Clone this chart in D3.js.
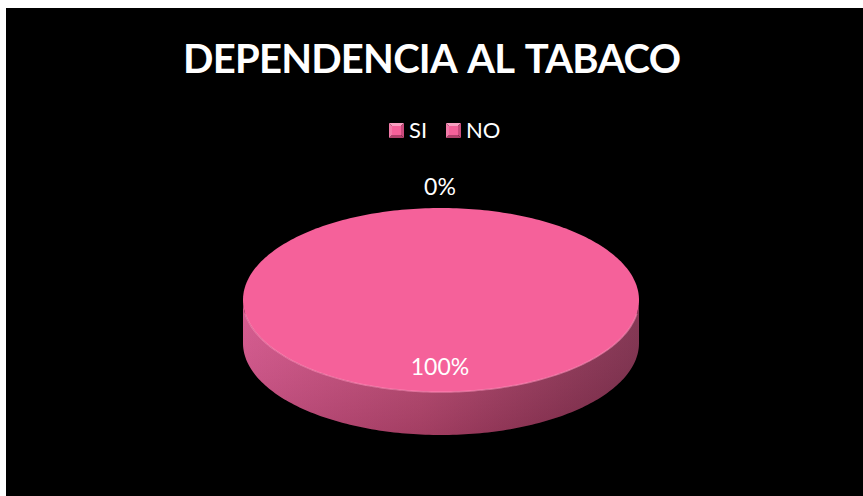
<!DOCTYPE html>
<html>
<head>
<meta charset="utf-8">
<script src="https://cdn.jsdelivr.net/npm/d3@7"></script>
<style>
    body { margin: 0; background: #fff; }
    svg { display: block; }
    text { font-family: Lato, "Open Sans", sans-serif; fill: #fff; }
</style>
</head>
<body>
<svg id="gfx"></svg>
<script>
// chart data
const title = "DEPENDENCIA AL TABACO";
const categories = ["SI", "NO"];
const values = [0, 100];
const colors = ["#f5619a", "#f5619a"];

const gfx = {
    width: 863,
    height: 496,
    cx: 441,
    cy: 300,
    rx: 198,
    ry: 92,
    depth: 43
};

const svg = d3.select("#gfx")
    .attr("width", gfx.width)
    .attr("height", gfx.height);

// black chart area
svg.append("rect")
    .attr("x", 6).attr("y", 8)
    .attr("width", gfx.width - 6).attr("height", gfx.height - 8)
    .attr("fill", "#000");

const defs = svg.append("defs");

const sideGrad = defs.append("linearGradient")
    .attr("id", "side").attr("x1", "0").attr("x2", "1").attr("y1", "0").attr("y2", "0");
sideGrad.append("stop").attr("offset", "0").attr("stop-color", "#d4538a");
sideGrad.append("stop").attr("offset", "0.45").attr("stop-color", "#b8466f");
sideGrad.append("stop").attr("offset", "0.8").attr("stop-color", "#923557");
sideGrad.append("stop").attr("offset", "1").attr("stop-color", "#7e2c4b");

const sideShade = defs.append("linearGradient")
    .attr("id", "sideShade").attr("x1", "0").attr("x2", "0").attr("y1", "0").attr("y2", "1");
sideShade.append("stop").attr("offset", "0").attr("stop-color", "#fff").attr("stop-opacity", 0.06);
sideShade.append("stop").attr("offset", "1").attr("stop-color", "#000").attr("stop-opacity", 0.12);

// title
const titleText = svg.append("text")
    .attr("x", 432).attr("y", 73)
    .attr("text-anchor", "middle")
    .attr("font-size", 40)
    .attr("font-weight", "bold")
    .attr("word-spacing", 4)
    .text(title);
// fit to the reference width
const tw = titleText.node().getComputedTextLength();
if (Math.abs(tw - 498) > 4) titleText.attr("textLength", 498).attr("lengthAdjust", "spacing");

// legend
const legendX = [389, 446];
const legend = svg.append("g").selectAll("g")
    .data(categories)
    .join("g")
    .attr("transform", (d, i) => "translate(" + legendX[i] + ",123)");

const sq = 15;
const bevel = [
    { pts: [[0, 0], [sq, 0], [sq / 2, sq / 2]], c: "#f9a0c1" },
    { pts: [[sq, 0], [sq, sq], [sq / 2, sq / 2]], c: "#c94a7c" },
    { pts: [[sq, sq], [0, sq], [sq / 2, sq / 2]], c: "#b0406b" },
    { pts: [[0, sq], [0, 0], [sq / 2, sq / 2]], c: "#f27aa8" }
];
legend.selectAll("path")
    .data(bevel)
    .join("path")
    .attr("d", d => "M" + d.pts.map(p => p.join(",")).join("L") + "Z")
    .attr("fill", d => d.c);
legend.append("rect")
    .attr("x", 3).attr("y", 3).attr("width", sq - 6).attr("height", sq - 6)
    .attr("fill", (d, i) => colors[i]);
legend.append("text")
    .attr("x", sq + 5).attr("y", sq)
    .attr("font-size", 22)
    .text(d => d);

// 3d pie
const pie = d3.pie().sort(null).value(d => d);
const arcs = pie(values);
const total = d3.sum(values);

const px = a => gfx.cx + gfx.rx * Math.sin(a);
const py = (a, dz) => gfx.cy - gfx.ry * Math.cos(a) + (dz || 0);

function angles(a0, a1) {
    const n = Math.max(2, Math.ceil((a1 - a0) / 0.02));
    return d3.range(n + 1).map(i => a0 + (a1 - a0) * i / n);
}

const pieG = svg.append("g");

// side walls (front half only)
arcs.forEach((d, i) => {
    const a0 = Math.max(d.startAngle, Math.PI / 2);
    const a1 = Math.min(d.endAngle, Math.PI * 3 / 2);
    if (a1 <= a0) return;
    const as = angles(a0, a1);
    const top = as.map(a => [px(a), py(a)]);
    const bot = as.slice().reverse().map(a => [px(a), py(a, gfx.depth)]);
    const path = "M" + top.concat(bot).map(p => p.join(",")).join("L") + "Z";
    pieG.append("path").attr("d", path).attr("fill", "url(#side)");
    pieG.append("path").attr("d", path).attr("fill", "url(#sideShade)");
});

// top faces
arcs.forEach((d, i) => {
    if (d.endAngle - d.startAngle <= 0) return;
    const as = angles(d.startAngle, d.endAngle);
    const pts = as.map(a => [px(a), py(a)]);
    const full = d.endAngle - d.startAngle >= Math.PI * 2 - 1e-6;
    const path = full
        ? "M" + pts.map(p => p.join(",")).join("L") + "Z"
        : "M" + gfx.cx + "," + gfx.cy + "L" + pts.map(p => p.join(",")).join("L") + "Z";
    pieG.append("path").attr("d", path).attr("fill", colors[i]);
});

// light rim along the front edge
const rim = angles(Math.PI / 2 + 0.15, Math.PI * 3 / 2 - 0.15).map(a => [px(a), py(a)]);
pieG.append("path")
    .attr("d", "M" + rim.map(p => p.join(",")).join("L"))
    .attr("fill", "none")
    .attr("stroke", "#ff8fba")
    .attr("stroke-width", 1.5)
    .attr("stroke-opacity", 0.6);

// data labels
arcs.forEach((d, i) => {
    const pct = Math.round(d.value / total * 100) + "%";
    const mid = (d.startAngle + d.endAngle) / 2;
    let x, y;
    if (d.endAngle - d.startAngle < 0.3) {
        // tiny slice: label sits outside the top rim
        x = px(mid) - 1;
        y = py(mid) - 13;
    } else {
        x = px(mid) - 1;
        y = gfx.cy + gfx.ry * 0.82 * -Math.cos(mid);
    }
    svg.append("text")
        .attr("x", x).attr("y", y)
        .attr("text-anchor", "middle")
        .attr("font-size", 23)
        .text(pct);
});
</script>
</body>
</html>
